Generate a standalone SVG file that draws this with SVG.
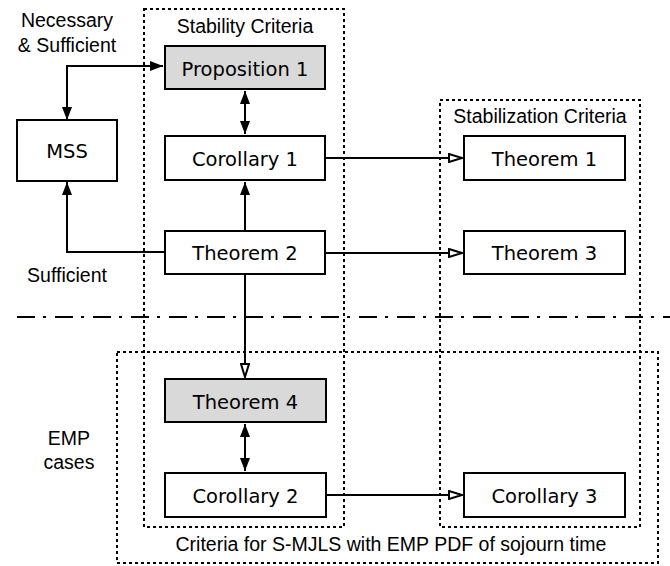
<svg xmlns="http://www.w3.org/2000/svg" width="670" height="566" viewBox="0 0 670 566">
<style>
.box{fill:#fff;stroke:#000;stroke-width:2}
.gray{fill:#d9d9d9}
.nt{font-family:"DejaVu Sans",Verdana,sans-serif;font-size:19.5px;text-anchor:middle;fill:#000}
.lt{font-family:"Liberation Sans",Arial,Helvetica,sans-serif;font-size:19.5px;text-anchor:middle;fill:#000}
.dot{fill:none;stroke:#000;stroke-width:2;stroke-dasharray:3 3}
.dd{fill:none;stroke:#000;stroke-width:2;stroke-dasharray:18 8 3 9}
.ln{fill:none;stroke:#000;stroke-width:2}
</style>
<defs>
<marker id="fa" markerUnits="userSpaceOnUse" viewBox="0 0 13 10" refX="13" refY="5" markerWidth="13" markerHeight="10" orient="auto-start-reverse">
<path d="M0,0 L13,5 L0,10 z" fill="#000"/>
</marker>
<marker id="ha" markerUnits="userSpaceOnUse" viewBox="0 0 15 10" refX="14" refY="5" markerWidth="15" markerHeight="10" orient="auto">
<path d="M1,1 L14,5 L1,9 z" fill="#fff" stroke="#000" stroke-width="2"/>
</marker>
</defs>
<g id="groups">
<rect class="dot" x="144" y="9" width="200" height="518"/>
<rect class="dot" x="440" y="100" width="200" height="427"/>
<rect class="dot" x="117" y="352" width="541" height="211"/>
<line class="dd" x1="17" y1="317" x2="670" y2="317"/>
<text class="lt" x="245" y="33">Stability Criteria</text>
<text class="lt" x="540" y="123">Stabilization Criteria</text>
<text class="lt" x="391" y="551">Criteria for S-MJLS with EMP PDF of sojourn time</text>
<text class="lt" x="67" y="27">Necessary</text>
<text class="lt" x="67" y="52">&amp; Sufficient</text>
<text class="lt" x="67" y="282">Sufficient</text>
<text class="lt" x="69" y="445">EMP</text>
<text class="lt" x="69" y="469">cases</text>
</g>
<g id="connectors">
<path class="ln" d="M163,66 H67 V120" marker-start="url(#fa)" marker-end="url(#fa)"/>
<line class="ln" x1="245" y1="91" x2="245" y2="134" marker-start="url(#fa)" marker-end="url(#fa)"/>
<line class="ln" x1="245" y1="231" x2="245" y2="182" marker-end="url(#fa)"/>
<path class="ln" d="M165,252 H67 V182" marker-end="url(#fa)"/>
<line class="ln" x1="325" y1="158" x2="462" y2="158" marker-end="url(#ha)"/>
<line class="ln" x1="325" y1="253" x2="462" y2="253" marker-end="url(#ha)"/>
<line class="ln" x1="245" y1="274" x2="245" y2="377" marker-end="url(#ha)"/>
<line class="ln" x1="245" y1="424" x2="245" y2="471" marker-start="url(#fa)" marker-end="url(#fa)"/>
<line class="ln" x1="326" y1="495" x2="462" y2="495" marker-end="url(#ha)"/>
</g>
<g id="prop1"><rect class="box gray" x="165" y="46" width="160" height="43"/><text class="nt" x="245" y="76">Proposition 1</text></g>
<g id="mss"><rect class="box" x="17" y="120" width="100" height="61"/><text class="nt" x="67" y="158">MSS</text></g>
<g id="cor1"><rect class="box" x="165" y="136" width="160" height="44"/><text class="nt" x="245" y="166">Corollary 1</text></g>
<g id="thm2"><rect class="box" x="165" y="231" width="160" height="43"/><text class="nt" x="245" y="260">Theorem 2</text></g>
<g id="thm1"><rect class="box" x="464" y="136" width="161" height="44"/><text class="nt" x="544.5" y="166">Theorem 1</text></g>
<g id="thm3"><rect class="box" x="464" y="231" width="161" height="43"/><text class="nt" x="544.5" y="260">Theorem 3</text></g>
<g id="thm4"><rect class="box gray" x="165" y="379" width="161" height="43"/><text class="nt" x="245.5" y="409">Theorem 4</text></g>
<g id="cor2"><rect class="box" x="165" y="473" width="161" height="44"/><text class="nt" x="245.5" y="503">Corollary 2</text></g>
<g id="cor3"><rect class="box" x="464" y="473" width="161" height="44"/><text class="nt" x="544.5" y="503">Corollary 3</text></g>
</svg>
